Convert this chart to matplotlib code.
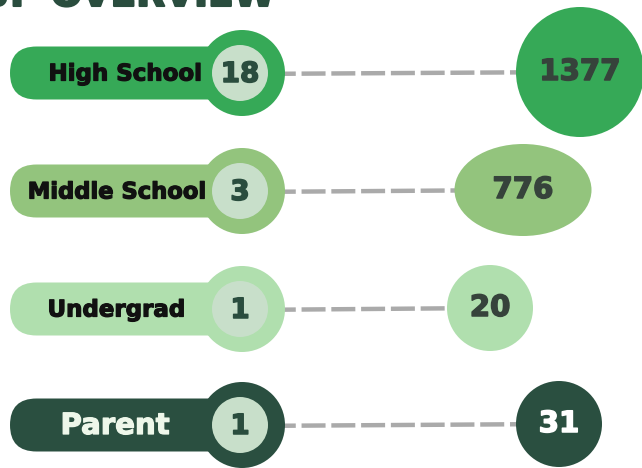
import matplotlib
matplotlib.use("Agg")
import matplotlib.pyplot as plt
import matplotlib.patheffects as pe
from matplotlib.patches import Circle, Ellipse, FancyBboxPatch

#DATA=======
groups = ["High School", "Middle School", "Undergrad", "Parent"]
counts = [18, 3, 1, 1]
totals = [1377, 776, 20, 31]
#=============

colors = ["#36a957", "#93c47d", "#b0dfae", "#2a4f40"]
label_colors = ["#111111", "#111111", "#111111", "#eef7ea"]
total_colors = ["#36433b", "#36433b", "#36433b", "#ffffff"]
label_sizes = [16.5, 16.3, 16.5, 21]
label_x = [125, 117, 116, 115]

# layout in pixels (figure is 642x468)
row_y = [73, 191, 309, 425]
bubble_x = [580, 523, 490, 559]
bubble_w = [128, 137, 86, 86]
bubble_h = [130, 92, 86, 86]
dark = "#2a4d3e"


def heavy(c, w=1.1):
    return [pe.withStroke(linewidth=w, foreground=c)]


fig = plt.figure(figsize=(6.42, 4.68), dpi=100)
ax = fig.add_axes([0, 0, 1, 1])
ax.set_xlim(0, 642)
ax.set_ylim(468, 0)
ax.axis("off")

ax.text(275, 6, "GROUP OVERVIEW", ha="right", va="baseline",
        fontsize=27, fontweight="bold", color=dark,
        path_effects=heavy(dark, 1.5))

for i, g in enumerate(groups):
    y = row_y[i]
    # connector
    ax.plot([242, bubble_x[i]], [y + 1, y - 1], color="#aaaaaa", lw=3.2,
            dashes=(5.4, 1.3), solid_capstyle="butt", zorder=1)
    # pill
    pill = FancyBboxPatch((10, y - 26.5), 240, 53,
                          boxstyle="round,pad=0,rounding_size=26.5",
                          fc=colors[i], ec="none", zorder=2)
    ax.add_patch(pill)
    ax.add_patch(Circle((242, y), 43, fc=colors[i], ec="none", zorder=3))
    ax.add_patch(Circle((240, y), 28, fc="#c8dfca", ec="none", zorder=4))
    ax.text(240, y + 1, str(counts[i]), ha="center", va="center",
            fontsize=20, fontweight="bold", color=dark, zorder=5,
            path_effects=heavy(dark))
    ax.text(label_x[i], y + 1, g, ha="center", va="center",
            fontsize=label_sizes[i], fontweight="bold",
            color=label_colors[i], zorder=5,
            path_effects=heavy(label_colors[i], 0.9))
    # bubble
    ax.add_patch(Ellipse((bubble_x[i], y - 1), bubble_w[i], bubble_h[i],
                         fc=colors[i], ec="none", zorder=3))
    ax.text(bubble_x[i], y - 1, str(totals[i]), ha="center", va="center",
            fontsize=21, fontweight="bold", color=total_colors[i], zorder=5,
            path_effects=heavy(total_colors[i]))

fig.savefig("out.png", dpi=100)
